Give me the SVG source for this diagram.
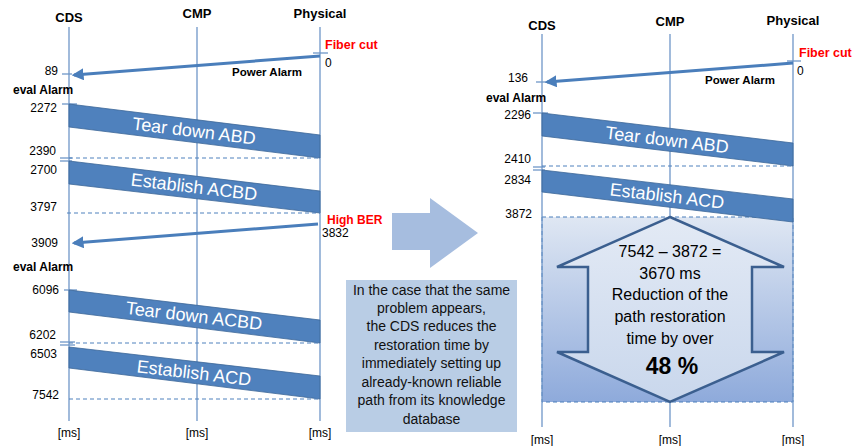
<svg xmlns="http://www.w3.org/2000/svg" width="852" height="446" viewBox="0 0 852 446">
<style>
.life{stroke:#6f96c8;stroke-width:1.3;fill:none}
.hdr{font-family:"Liberation Sans",Arial,sans-serif;font-weight:bold;font-size:13px;fill:#000;text-anchor:middle}
.num{font-family:"Liberation Sans",Arial,sans-serif;font-size:12px;fill:#000}
.numr{font-family:"Liberation Sans",Arial,sans-serif;font-size:12px;fill:#000;text-anchor:end}
.bold{font-family:"Liberation Sans",Arial,sans-serif;font-weight:bold;font-size:12px;fill:#000}
.red{font-family:"Liberation Sans",Arial,sans-serif;font-weight:bold;font-size:12.5px;fill:#ff0000}
.pa{font-family:"Liberation Sans",Arial,sans-serif;font-weight:bold;font-size:11.5px;fill:#000;text-anchor:middle}
.band{fill:#4f81bd;stroke:#3c6798;stroke-width:0.8}
.bandt{font-family:"Liberation Sans",Arial,sans-serif;font-size:18px;fill:#fff;text-anchor:middle}
.dash{stroke:#4f81bd;stroke-width:1;stroke-dasharray:4 3;fill:none}
.tick{stroke:#6f96c8;stroke-width:1.3}
.msg{stroke:#4a7ebb;stroke-width:3;fill:none}
.ms{font-family:"Liberation Sans",Arial,sans-serif;font-size:12px;fill:#000;text-anchor:middle}
.box{font-family:"Liberation Sans",Arial,sans-serif;font-size:14px;fill:#111;text-anchor:middle}
.inn{font-family:"Liberation Sans",Arial,sans-serif;font-size:16px;fill:#000;text-anchor:middle}
</style>
<defs>
<marker id="ah" viewBox="0 0 10 10" refX="8" refY="5" markerWidth="4" markerHeight="4" orient="auto" markerUnits="strokeWidth">
<path d="M0,0 L10,5 L0,10 z" fill="#4a7ebb"/>
</marker>
<linearGradient id="shade" x1="0" y1="0" x2="0" y2="1">
<stop offset="0" stop-color="#dfe7f3"/>
<stop offset="1" stop-color="#8eaadb"/>
</linearGradient>
<linearGradient id="arrfill" x1="0" y1="0" x2="0" y2="1">
<stop offset="0" stop-color="#e3eaf5"/>
<stop offset="1" stop-color="#c9d7ec"/>
</linearGradient>
</defs>

<!-- LEFT DIAGRAM -->
<g id="left-lifelines">
<line class="life" x1="69" y1="27" x2="69" y2="421"/>
<line class="life" x1="197" y1="27" x2="197" y2="421"/>
<line class="life" x1="320" y1="27" x2="320" y2="421"/>
<text class="hdr" x="69" y="22">CDS</text>
<text class="hdr" x="197" y="18">CMP</text>
<text class="hdr" x="320" y="18">Physical</text>
<text class="ms" x="69" y="437">[ms]</text>
<text class="ms" x="197" y="437">[ms]</text>
<text class="ms" x="320" y="437">[ms]</text>
</g>

<g id="left-labels">
<text class="red" x="325" y="49">Fiber cut</text>
<text class="num" x="325" y="67">0</text>
<text class="numr" x="58" y="75">89</text>
<text class="pa" x="267" y="76">Power Alarm</text>
<text class="bold" x="13" y="94">eval Alarm</text>
<text class="numr" x="57" y="112">2272</text>
<text class="numr" x="56" y="155">2390</text>
<text class="numr" x="57" y="174">2700</text>
<text class="numr" x="57" y="211">3797</text>
<text class="red" x="327" y="224" style="font-size:12px">High BER</text>
<text class="num" x="322" y="237">3832</text>
<text class="numr" x="58" y="247">3909</text>
<text class="bold" x="13" y="271">eval Alarm</text>
<text class="numr" x="59" y="294">6096</text>
<text class="numr" x="56" y="339">6202</text>
<text class="numr" x="57" y="358">6503</text>
<text class="numr" x="59" y="399">7542</text>
</g>

<g id="left-ticks">
<line class="tick" x1="313" y1="53" x2="328" y2="53"/>
<line class="tick" x1="62" y1="74" x2="72" y2="74"/>
<line class="tick" x1="62" y1="104" x2="77" y2="104"/>
<line class="tick" x1="60" y1="158" x2="72" y2="158"/>
<line class="tick" x1="60" y1="161" x2="72" y2="161"/>
<line class="tick" x1="64" y1="290" x2="77" y2="290"/>
<line class="tick" x1="60" y1="342" x2="75" y2="342"/>
<line class="tick" x1="60" y1="345" x2="75" y2="345"/>
</g>

<g id="tear-down-abd-left">
<polygon class="band" points="69,104 320,135 320,158 69,127"/>
<text class="bandt" transform="translate(194,131) rotate(7)" dy="6">Tear down ABD</text>
</g>
<g id="establish-acbd-left">
<polygon class="band" points="69,161 320,191 320,213 69,184"/>
<text class="bandt" transform="translate(194,187) rotate(6.8)" dy="6">Establish ACBD</text>
</g>
<g id="tear-down-acbd-left">
<polygon class="band" points="69,290 320,320 320,343 69,312"/>
<text class="bandt" transform="translate(194,316) rotate(6.8)" dy="6">Tear down ACBD</text>
</g>
<g id="establish-acd-left">
<polygon class="band" points="69,347 320,376 320,399 69,368"/>
<text class="bandt" transform="translate(194,373) rotate(6.7)" dy="6">Establish ACD</text>
</g>

<g id="left-connectors">
<line class="msg" x1="320" y1="56" x2="74" y2="75" marker-end="url(#ah)"/>
<line class="msg" x1="318" y1="224" x2="74" y2="243" marker-end="url(#ah)"/>
<line class="dash" x1="69" y1="158" x2="320" y2="158"/>
<line class="dash" x1="67" y1="213" x2="320" y2="213"/>
<line class="dash" x1="69" y1="343" x2="320" y2="343"/>
<line class="dash" x1="69" y1="399" x2="320" y2="399"/>
</g>

<!-- MIDDLE -->
<g id="transition-arrow">
<polygon points="392,213 430,213 430,198 478,233 430,268 430,250 392,250" fill="#a6bddf"/>
</g>
<g id="note-box">
<rect x="346" y="280" width="171" height="152" fill="#b9cde5"/>
<text class="box" x="431.5" y="295">In the case that the same</text>
<text class="box" x="431.5" y="313">problem appears,</text>
<text class="box" x="431.5" y="331">the CDS reduces the</text>
<text class="box" x="431.5" y="350">restoration time by</text>
<text class="box" x="431.5" y="368">immediately setting up</text>
<text class="box" x="431.5" y="387">already-known reliable</text>
<text class="box" x="431.5" y="405">path from its knowledge</text>
<text class="box" x="431.5" y="424">database</text>
</g>

<!-- RIGHT DIAGRAM -->
<g id="right-shade">
<rect x="542" y="217" width="251" height="185" fill="url(#shade)" stroke="#4a7ebb" stroke-width="1" stroke-dasharray="4 3"/>
</g>
<g id="right-lifelines">
<line class="life" x1="542" y1="34" x2="542" y2="427"/>
<line class="life" x1="670" y1="34" x2="670" y2="427"/>
<line class="life" x1="793" y1="34" x2="793" y2="427"/>
<text class="hdr" x="542" y="30">CDS</text>
<text class="hdr" x="670" y="26">CMP</text>
<text class="hdr" x="793" y="25">Physical</text>
<text class="ms" x="542" y="444">[ms]</text>
<text class="ms" x="670" y="444">[ms]</text>
<text class="ms" x="793" y="444">[ms]</text>
</g>

<g id="right-labels">
<text class="red" x="799" y="57">Fiber cut</text>
<text class="num" x="797" y="75">0</text>
<text class="numr" x="528" y="82">136</text>
<text class="pa" x="740" y="84">Power Alarm</text>
<text class="bold" x="486" y="102">eval Alarm</text>
<text class="numr" x="531" y="119">2296</text>
<text class="numr" x="531" y="163">2410</text>
<text class="numr" x="531" y="184">2834</text>
<text class="numr" x="532" y="218">3872</text>
</g>

<g id="right-ticks">
<line class="tick" x1="787" y1="61" x2="801" y2="61"/>
<line class="tick" x1="536" y1="82" x2="548" y2="82"/>
<line class="tick" x1="533" y1="113" x2="548" y2="113"/>
<line class="tick" x1="533" y1="167" x2="545" y2="167"/>
<line class="tick" x1="533" y1="170" x2="545" y2="170"/>
</g>

<g id="tear-down-abd-right">
<polygon class="band" points="542,113 793,143 793,166 542,136"/>
<text class="bandt" transform="translate(667,140) rotate(6.8)" dy="6">Tear down ABD</text>
</g>
<g id="establish-acd-right">
<polygon class="band" points="542,170 793,199 793,222 542,192"/>
<text class="bandt" transform="translate(667,196) rotate(6.7)" dy="6">Establish ACD</text>
</g>

<g id="right-connectors">
<line class="msg" x1="793" y1="63" x2="547" y2="82" marker-end="url(#ah)"/>
<line class="dash" x1="542" y1="166" x2="793" y2="166"/>
</g>

<g id="reduction-arrow">
<polygon points="670,217 784,267 752,267 752,352 784,352 670,402 557,352 588,352 588,267 557,267" fill="url(#arrfill)" stroke="#3b5f8f" stroke-width="2.5" stroke-linejoin="miter"/>
<text class="inn" x="670" y="257">7542 – 3872 =</text>
<text class="inn" x="670" y="279">3670 ms</text>
<text class="inn" x="670" y="300">Reduction of the</text>
<text class="inn" x="670" y="322">path restoration</text>
<text class="inn" x="670" y="344">time by over</text>
<text class="inn" x="672" y="374" style="font-weight:bold;font-size:23px">48 %</text>
</g>
</svg>
